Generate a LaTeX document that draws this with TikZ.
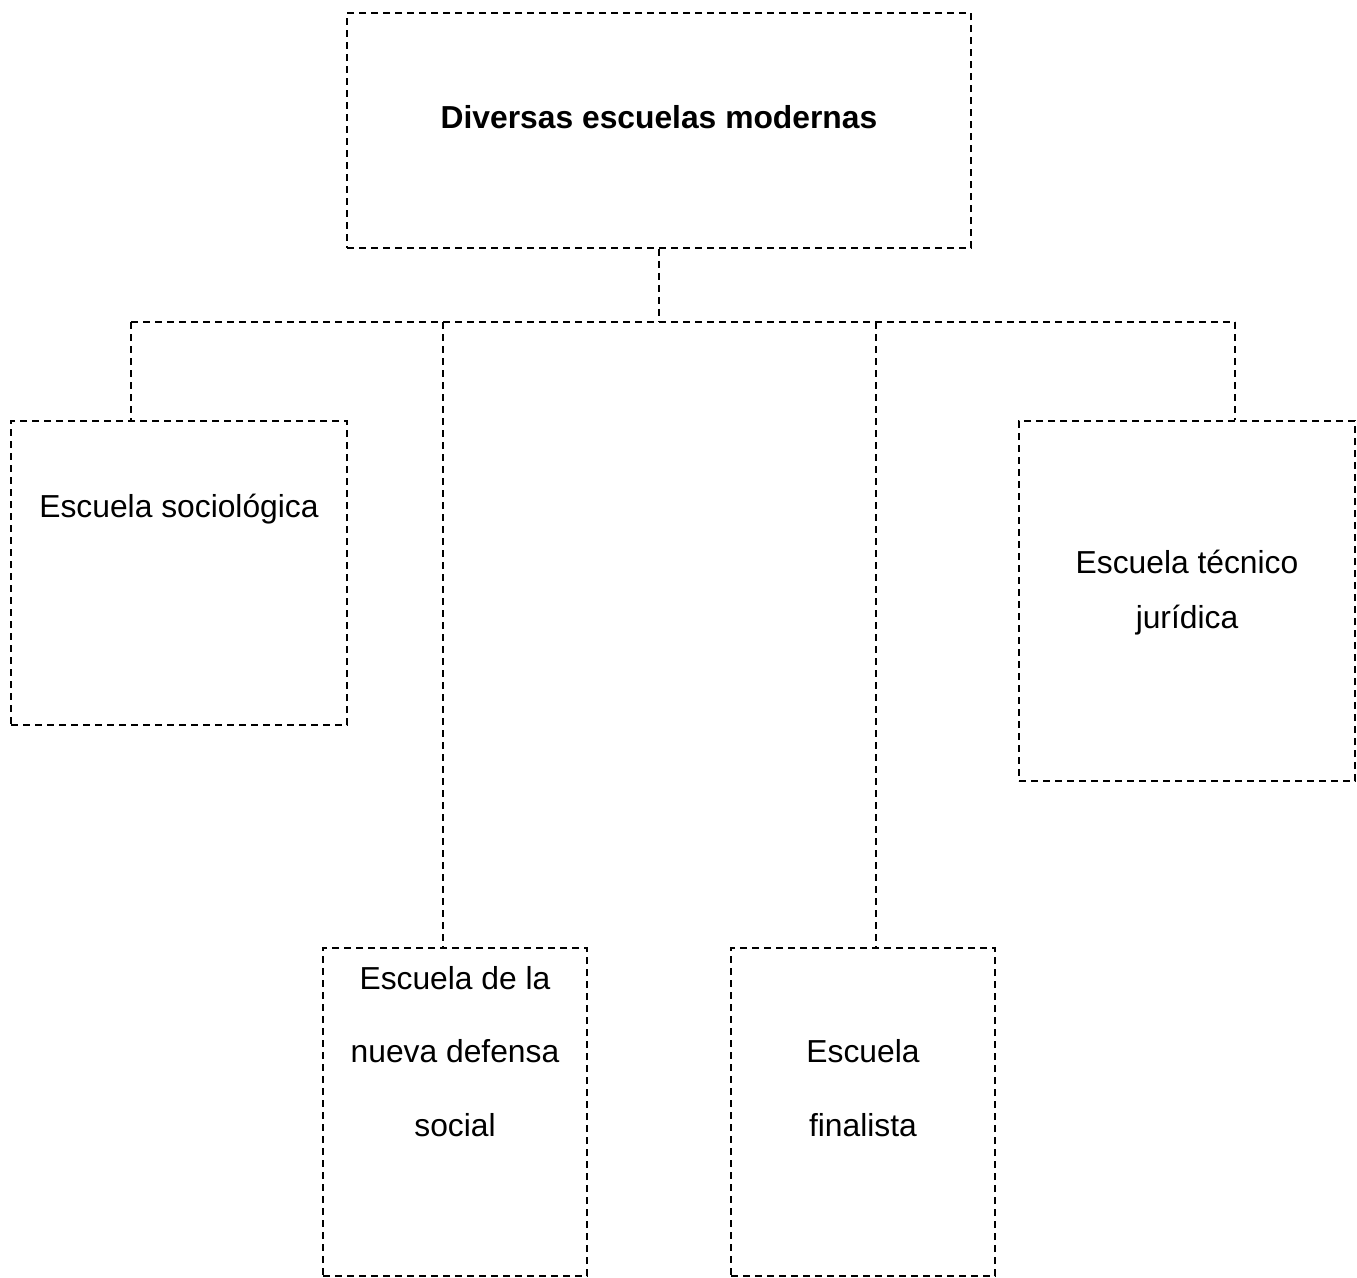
\documentclass[tikz,border=0pt]{standalone}
\usepackage{fontspec}
\setmainfont{Liberation Sans}
\begin{document}
\begin{tikzpicture}[x=1pt,y=-1pt,
  dline/.style={line width=1.5pt,dash pattern=on 7pt off 5pt},
  box/.style={draw,dline,rectangle,inner sep=0pt},
  txt/.style={font=\fontsize{31.8}{55}\selectfont,align=center,inner sep=0pt,anchor=base}]
\useasboundingbox (0,0) rectangle (1357,1277);
% boxes
\node[box,minimum width=624pt,minimum height=235pt] (top) at (659,130.5) {};
\node[box,minimum width=336pt,minimum height=304pt] (soc) at (179,573) {};
\node[box,minimum width=336pt,minimum height=360pt] (tec) at (1187,601) {};
\node[box,minimum width=264pt,minimum height=328pt] (nds) at (455,1112) {};
\node[box,minimum width=264pt,minimum height=328pt] (fin) at (863,1112) {};
% texts
\node[txt,font=\fontsize{31.8}{55}\selectfont\bfseries] (ttop) at (659,128) {Diversas escuelas modernas};
\node[txt] (tsoc) at (179,517) {Escuela sociológica};
\node[txt] (ttec) at (1187,628) {Escuela técnico\\jurídica};
\node[txt,font=\fontsize{31.8}{73.5}\selectfont] (tnds) at (455,1136) {Escuela de la\\nueva defensa\\social};
\node[txt,font=\fontsize{31.8}{73.5}\selectfont] (tfin) at (863,1136) {Escuela\\finalista};
% connectors
\coordinate (hub) at (659,322);
\coordinate (h1) at (131,322);
\coordinate (h2) at (443,322);
\coordinate (h3) at (876,322);
\coordinate (h4) at (1235,322);
\draw[dline] (top.south) -- (hub);
\draw[dline] (h1) -- (h4);
\draw[dline] (h1) -- (h1 |- soc.north);
\draw[dline] (h2) -- (h2 |- nds.north);
\draw[dline] (h3) -- (h3 |- fin.north);
\draw[dline] (h4) -- (h4 |- tec.north);
\end{tikzpicture}
\end{document}
